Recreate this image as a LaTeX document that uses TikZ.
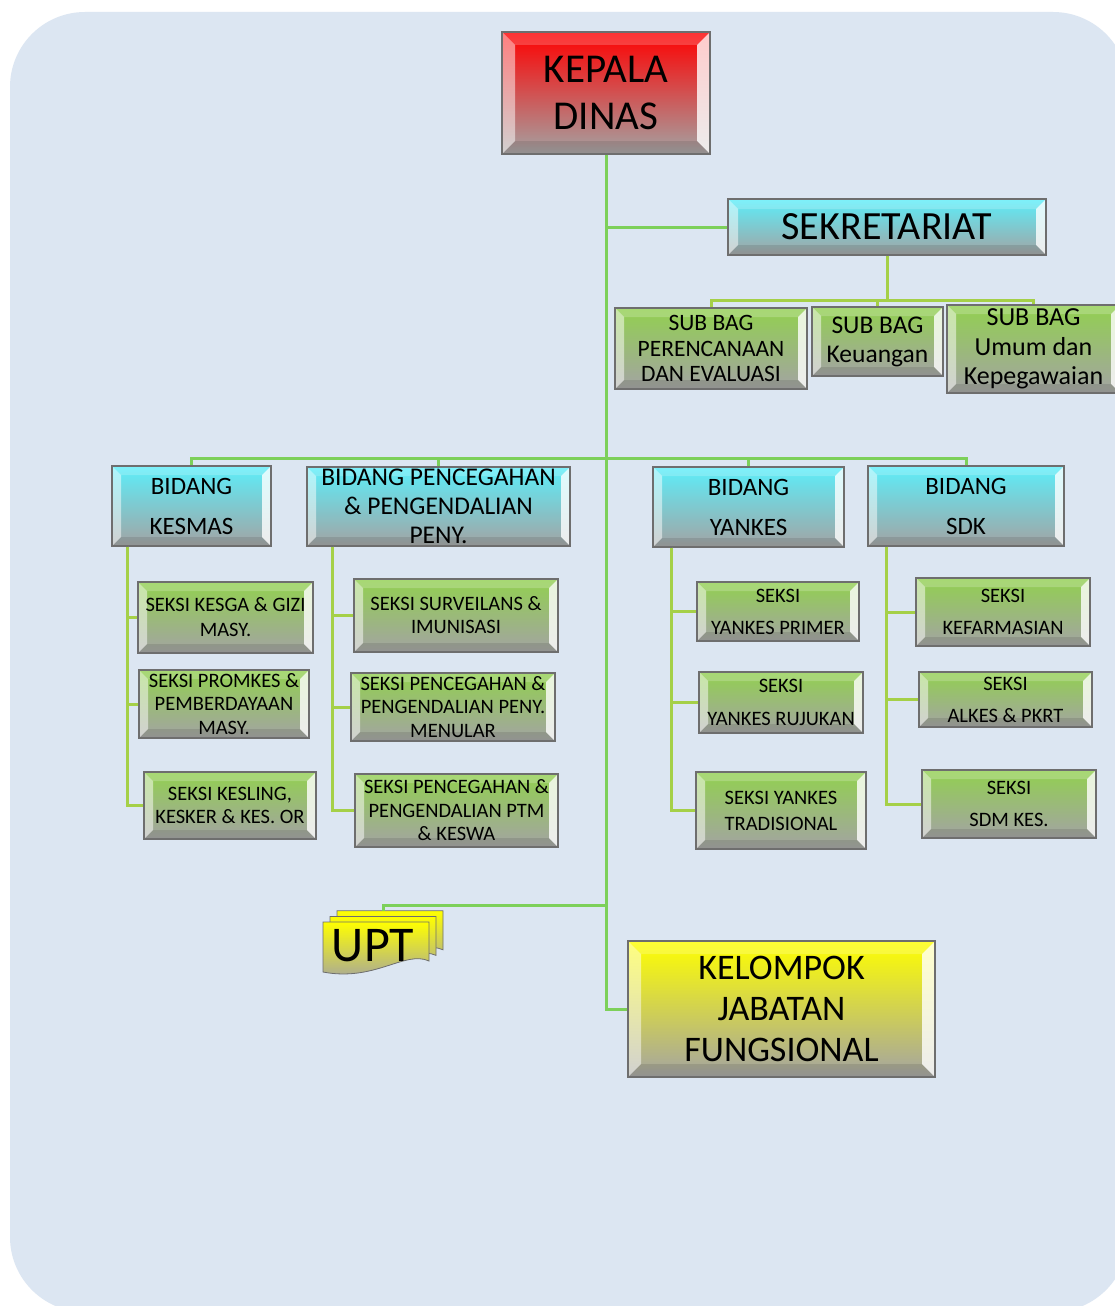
\documentclass[tikz,border=0pt]{standalone}
\usepackage{fontspec}
\setmainfont{Carlito}
\usepackage{tikz}
\usetikzlibrary{calc}

\definecolor{bgblue}{RGB}{220,230,242}
\definecolor{trunkgreen}{RGB}{125,208,90}
\definecolor{limegreen}{RGB}{165,208,72}
\definecolor{boxline}{RGB}{110,110,110}
\definecolor{boxgray}{RGB}{163,163,163}
\definecolor{cyantop}{RGB}{92,238,250}
\definecolor{greentop}{RGB}{146,208,80}

\newcommand{\fs}[2]{\fontsize{#1}{#2}\selectfont}

\begin{document}
\begin{tikzpicture}[x=1pt, y=-1pt,
    bevel/.style={path picture={
        \fill[white, opacity=.5] (path picture bounding box.north west) -- (path picture bounding box.south west)
            -- ([shift={(#1,#1)}]path picture bounding box.south west) -- ([shift={(#1,-#1)}]path picture bounding box.north west) -- cycle;
        \fill[white, opacity=.8] (path picture bounding box.north east) -- (path picture bounding box.south east)
            -- ([shift={(-#1,#1)}]path picture bounding box.south east) -- ([shift={(-#1,-#1)}]path picture bounding box.north east) -- cycle;
        \fill[white, opacity=.2] (path picture bounding box.north west) -- (path picture bounding box.north east)
            -- ([shift={(-#1,-#1)}]path picture bounding box.north east) -- ([shift={(#1,-#1)}]path picture bounding box.north west) -- cycle;
        \fill[black, opacity=.1] (path picture bounding box.south west) -- (path picture bounding box.south east)
            -- ([shift={(-#1,#1)}]path picture bounding box.south east) -- ([shift={(#1,#1)}]path picture bounding box.south west) -- cycle;
    }},
    unitbox/.style={draw=boxline, line width=1.2pt, inner sep=0pt, align=center, bottom color=boxgray, bevel=9pt},
    redbox/.style={unitbox, top color=red, bevel=13pt},
    cyanbox/.style={unitbox, top color=cyantop},
    greenbox/.style={unitbox, top color=greentop},
    yellowbox/.style={unitbox, top color=yellow, bevel=13pt},
    seksi/.style={greenbox, font=\fs{20.5}{#1}},
    trunk/.style={draw=trunkgreen, line width=3pt},
    branch/.style={draw=limegreen, line width=3pt}]

    % Background
    \useasboundingbox (0,0) rectangle (1115,1306);
    \fill[white] (0,0) rectangle (1115,1306);
    \fill[bgblue, rounded corners=75pt] (10,12) rectangle (1128,1312);

    % Head
    \node[redbox, minimum width=208pt, minimum height=122pt, font=\fs{41}{47}] (kepala) at (606,93) {KEPALA\\DINAS};

    % Secretariat
    \node[cyanbox, bevel=10pt, minimum width=318pt, minimum height=56pt, font=\fs{40}{44}] (sekre) at (887,227) {SEKRETARIAT};
    \node[greenbox, minimum width=192pt, minimum height=81pt, font=\fs{23.5}{25.5}] (perenc) at (711,348.5) {SUB BAG\\PERENCANAAN\\DAN EVALUASI};
    \node[greenbox, minimum width=131pt, minimum height=69pt, font=\fs{25.5}{29}] (keu) at (877.5,341.5) {SUB BAG\\Keuangan};
    \node[greenbox, minimum width=173pt, minimum height=88pt, font=\fs{26}{29.5}] (umum) at (1033.5,349) {SUB BAG\\Umum dan\\Kepegawaian};

    % Bidang
    \node[cyanbox, minimum width=159pt, minimum height=80pt, font=\fs{25}{40}] (kesmas) at (191.5,506) {BIDANG\\KESMAS};
    \node[cyanbox, minimum width=263pt, minimum height=79pt, font=\fs{25.5}{29}] (p2p) at (438.5,506.5) {BIDANG PENCEGAHAN\\\& PENGENDALIAN\\PENY.};
    \node[cyanbox, minimum width=191pt, minimum height=80pt, font=\fs{25}{40}] (yankes) at (748.5,507) {BIDANG\\YANKES};
    \node[cyanbox, minimum width=196pt, minimum height=80pt, font=\fs{25}{40}] (sdk) at (966,506) {BIDANG\\SDK};

    % Seksi under Kesmas
    \node[seksi=25, minimum width=175pt, minimum height=71pt] (gizi) at (225.5,617.5) {SEKSI KESGA \& GIZI\\MASY.};
    \node[seksi=23.5, minimum width=170pt, minimum height=68pt] (promkes) at (224,704) {SEKSI PROMKES \&\\PEMBERDAYAAN\\MASY.};
    \node[seksi=23, minimum width=172pt, minimum height=67pt] (kesling) at (230,805.5) {SEKSI KESLING,\\KESKER \& KES. OR};

    % Seksi under P2P
    \node[seksi=23, minimum width=204pt, minimum height=73pt] (surv) at (456,615.5) {SEKSI SURVEILANS \&\\IMUNISASI};
    \node[seksi=23.5, minimum width=204pt, minimum height=68pt] (menular) at (453,707) {SEKSI PENCEGAHAN \&\\PENGENDALIAN PENY.\\MENULAR};
    \node[seksi=23.5, minimum width=203pt, minimum height=73pt] (ptm) at (456.5,810.5) {SEKSI PENCEGAHAN \&\\PENGENDALIAN PTM\\\& KESWA};

    % Seksi under Yankes
    \node[seksi=32, minimum width=162pt, minimum height=59pt] (primer) at (778,611.5) {SEKSI\\YANKES PRIMER};
    \node[seksi=33, minimum width=164pt, minimum height=61pt] (rujukan) at (781,702.5) {SEKSI\\YANKES RUJUKAN};
    \node[seksi=26, minimum width=170pt, minimum height=77pt] (trad) at (781,810.5) {SEKSI YANKES\\TRADISIONAL};

    % Seksi under SDK
    \node[seksi=32, minimum width=174pt, minimum height=68pt] (farmasi) at (1003,612) {SEKSI\\KEFARMASIAN};
    \node[seksi=32, minimum width=173pt, minimum height=55pt] (alkes) at (1005.5,699.5) {SEKSI\\ALKES \& PKRT};
    \node[seksi=32, minimum width=174pt, minimum height=68pt] (sdmkes) at (1009,804) {SEKSI\\SDM KES.};

    % UPT (stacked documents)
    \foreach \d in {14,7,0}
        \shade[top color=yellow, bottom color=boxgray, draw=boxline, line width=.8pt, shift={(\d,-0.8*\d)}]
            (323,922) -- (429,922) -- (429,961) .. controls (405,950) and (375,982) .. (323,972) -- cycle;
    \node[inner sep=0pt, font=\fs{50}{50}] (upt) at (373,946) {UPT};
    \coordinate (uptTop) at (383,911);

    % Functional group
    \node[yellowbox, minimum width=307pt, minimum height=136pt, font=\fs{36}{41}] (kjf) at (781.5,1009) {KELOMPOK\\JABATAN\\FUNGSIONAL};

    % Main line
    \draw[trunk] (kepala.south) |- (kjf.west);
    \draw[trunk] (kepala.south |- sekre.west) -- (sekre.west);
    \draw[trunk] ([yshift=6pt]uptTop -| kepala.south) -| (uptTop);

    % Sub bag lines
    \coordinate (sbus) at (887,300);
    \draw[branch] (sekre.south) -- (sbus);
    \draw[branch] (perenc.north) |- (sbus) -| (umum.north);
    \draw[branch] (keu.north) -- (keu.north |- sbus);

    % Bidang lines
    \coordinate (bbus) at (606,458);
    \draw[trunk] (kesmas.north) |- (bbus) -| (sdk.north);
    \draw[trunk] (p2p.north) -- (p2p.north |- bbus);
    \draw[trunk] (yankes.north) -- (yankes.north |- bbus);

    % Seksi lines
    \draw[branch] ([xshift=16pt]kesmas.south west) |- (gizi.west);
    \draw[branch] ([xshift=16pt]kesmas.south west) |- (promkes.west);
    \draw[branch] ([xshift=16pt]kesmas.south west) |- (kesling.west);
    \draw[branch] ([xshift=26pt]p2p.south west) |- (surv.west);
    \draw[branch] ([xshift=26pt]p2p.south west) |- (menular.west);
    \draw[branch] ([xshift=26pt]p2p.south west) |- (ptm.west);
    \draw[branch] ([xshift=19pt]yankes.south west) |- (primer.west);
    \draw[branch] ([xshift=19pt]yankes.south west) |- (rujukan.west);
    \draw[branch] ([xshift=19pt]yankes.south west) |- (trad.west);
    \draw[branch] ([xshift=19pt]sdk.south west) |- (farmasi.west);
    \draw[branch] ([xshift=19pt]sdk.south west) |- (alkes.west);
    \draw[branch] ([xshift=19pt]sdk.south west) |- (sdmkes.west);
\end{tikzpicture}
\end{document}
